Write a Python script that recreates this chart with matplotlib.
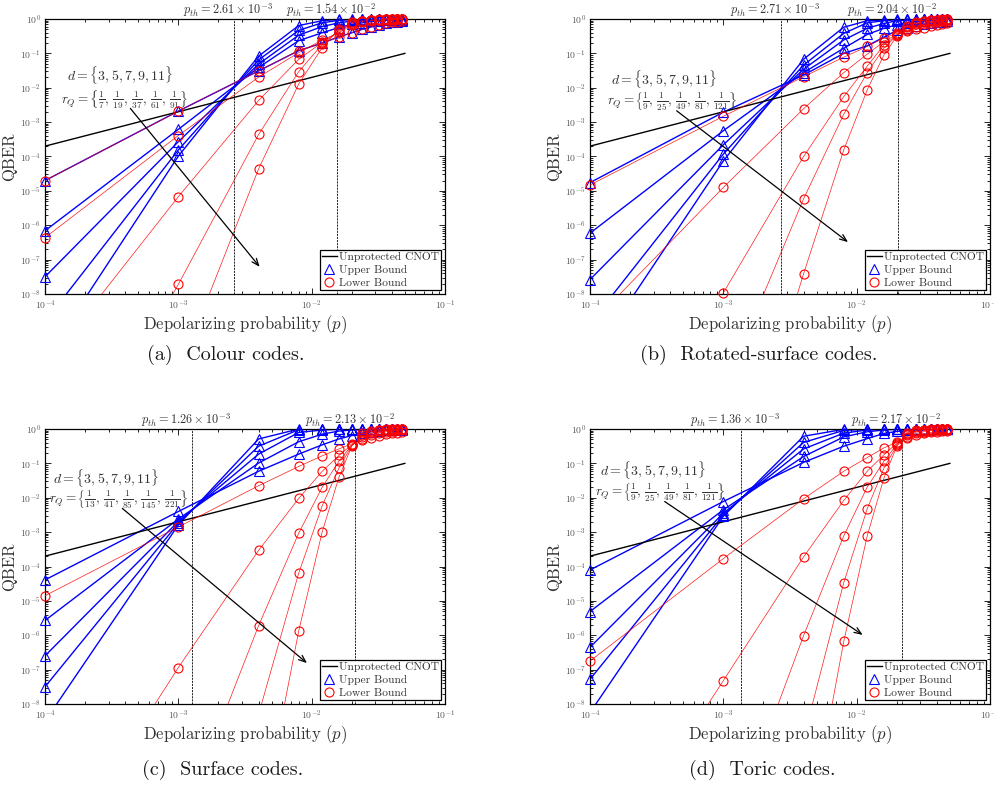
import numpy as np
import matplotlib
matplotlib.use("Agg")
import matplotlib.pyplot as plt
import matplotlib.transforms as mtransforms
from matplotlib.lines import Line2D
from matplotlib.ticker import LogLocator, NullFormatter

plt.rcParams.update({
    "font.family": "serif",
    "font.serif": ["cmr10", "DejaVu Serif"],
    "mathtext.fontset": "cm",
    "axes.formatter.use_mathtext": True,
    "axes.unicode_minus": False,
})

# Depolarizing probabilities at which the bounds were evaluated
p_grid = [1e-4, 1e-3, 4e-3, 8e-3, 1.2e-2, 1.6e-2, 2.0e-2, 2.4e-2,
          2.8e-2, 3.2e-2, 3.6e-2, 4.0e-2, 4.4e-2, 4.8e-2]
distances = [3, 5, 7, 9, 11]

# Unprotected CNOT
p_unprot = [1e-4, 5e-2]
q_unprot = [2e-4, 1e-1]

# log10(QBER), one row per distance d = 3, 5, 7, 9, 11
colour_upper = [
    [-4.70, -2.68, -1.51, -0.92, -0.70, -0.52, -0.40, -0.30, -0.23, -0.17, -0.13, -0.10, -0.08, -0.06],
    [-6.16, -3.21, -1.41, -0.63, -0.40, -0.25, -0.16, -0.11, -0.07, -0.05, -0.04, -0.03, -0.02, -0.02],
    [-7.50, -3.57, -1.31, -0.47, -0.22, -0.11, -0.06, -0.03, -0.02, -0.01, -0.01, 0.00, 0.00, 0.00],
    [-8.80, -3.81, -1.19, -0.33, -0.11, -0.04, -0.02, -0.01, 0.00, 0.00, 0.00, 0.00, 0.00, 0.00],
    [-9.90, -3.99, -1.08, -0.19, -0.05, -0.01, 0.00, 0.00, 0.00, 0.00, 0.00, 0.00, 0.00, 0.00],
]
colour_lower = [
    [-4.70, -2.68, -1.51, -0.92, -0.70, -0.52, -0.40, -0.30, -0.23, -0.17, -0.13, -0.10, -0.08, -0.06],
    [-6.36, -3.39, -1.69, -0.98, -0.61, -0.40, -0.17, -0.09, -0.05, -0.03, -0.02, -0.02, -0.01, -0.01],
    [-10.1, -5.17, -2.37, -1.17, -0.68, -0.36, -0.14, -0.07, -0.04, -0.02, -0.01, -0.01, 0.00, 0.00],
    [-14.5, -7.72, -3.36, -1.53, -0.74, -0.33, -0.12, -0.06, -0.03, -0.02, -0.01, 0.00, 0.00, 0.00],
    [-17.0, -10.3, -4.36, -1.89, -0.83, -0.30, -0.10, -0.05, -0.03, -0.01, 0.00, 0.00, 0.00, 0.00],
]

rotated_upper = [
    [-4.76, -2.71, -1.63, -1.00, -0.78, -0.53, -0.33, -0.25, -0.19, -0.15, -0.12, -0.10, -0.08, -0.07],
    [-6.23, -3.25, -1.56, -0.85, -0.45, -0.27, -0.17, -0.11, -0.07, -0.05, -0.03, -0.02, -0.02, -0.01],
    [-7.58, -3.66, -1.46, -0.61, -0.27, -0.13, -0.05, -0.03, -0.02, -0.01, -0.01, 0.00, 0.00, 0.00],
    [-8.86, -3.93, -1.34, -0.42, -0.11, -0.05, -0.02, -0.01, 0.00, 0.00, 0.00, 0.00, 0.00, 0.00],
    [-9.93, -4.13, -1.17, -0.24, -0.05, -0.03, -0.01, 0.00, 0.00, 0.00, 0.00, 0.00, 0.00, 0.00],
]
rotated_lower = [
    [-4.83, -2.83, -1.68, -1.11, -0.80, -0.55, -0.42, -0.36, -0.30, -0.25, -0.21, -0.18, -0.15, -0.13],
    [-8.90, -4.90, -2.61, -1.56, -1.02, -0.66, -0.45, -0.33, -0.22, -0.15, -0.11, -0.08, -0.06, -0.05],
    [-14.6, -7.97, -4.00, -2.26, -1.37, -0.76, -0.47, -0.28, -0.16, -0.10, -0.06, -0.04, -0.03, -0.02],
    [-19.0, -10.8, -5.23, -2.77, -1.56, -0.85, -0.48, -0.24, -0.12, -0.07, -0.04, -0.03, -0.02, -0.01],
    [-25.0, -15.0, -7.41, -3.81, -2.06, -1.05, -0.50, -0.20, -0.09, -0.05, -0.03, -0.02, -0.01, -0.01],
]

surface_upper = [
    [-4.39, -2.40, -1.23, -0.73, -0.46, -0.29, -0.19, -0.12, -0.08, -0.06, -0.04, -0.03, -0.02, -0.02],
    [-5.57, -2.62, -0.99, -0.37, -0.15, -0.06, -0.03, -0.02, -0.01, 0.00, 0.00, 0.00, 0.00, 0.00],
    [-6.60, -2.69, -0.73, -0.10, -0.03, -0.01, 0.00, 0.00, 0.00, 0.00, 0.00, 0.00, 0.00, 0.00],
    [-7.50, -2.74, -0.50, -0.02, 0.00, 0.00, 0.00, 0.00, 0.00, 0.00, 0.00, 0.00, 0.00, 0.00],
    [-8.50, -2.79, -0.29, 0.00, 0.00, 0.00, 0.00, 0.00, 0.00, 0.00, 0.00, 0.00, 0.00, 0.00],
]
surface_lower = [
    [-4.85, -2.85, -1.65, -1.09, -0.78, -0.58, -0.43, -0.33, -0.25, -0.20, -0.16, -0.13, -0.11, -0.09],
    [-13.0, -6.94, -3.53, -2.02, -1.23, -0.77, -0.46, -0.28, -0.18, -0.12, -0.08, -0.06, -0.04, -0.03],
    [-20.0, -11.7, -5.72, -3.03, -1.69, -0.94, -0.47, -0.22, -0.12, -0.07, -0.04, -0.03, -0.02, -0.01],
    [-28.0, -16.5, -8.30, -4.19, -2.23, -1.14, -0.48, -0.17, -0.08, -0.04, -0.02, -0.01, -0.01, 0.00],
    [-36.0, -24.0, -11.9, -5.87, -2.99, -1.41, -0.50, -0.12, -0.05, -0.03, -0.01, -0.01, 0.00, 0.00],
]

toric_upper = [
    [-4.10, -2.11, -0.97, -0.50, -0.28, -0.13, -0.07, -0.04, -0.03, -0.02, -0.01, -0.01, 0.00, 0.00],
    [-5.31, -2.35, -0.80, -0.23, -0.08, -0.03, -0.01, 0.00, 0.00, 0.00, 0.00, 0.00, 0.00, 0.00],
    [-6.35, -2.45, -0.58, -0.12, -0.03, -0.01, 0.00, 0.00, 0.00, 0.00, 0.00, 0.00, 0.00, 0.00],
    [-7.28, -2.50, -0.39, -0.04, -0.01, 0.00, 0.00, 0.00, 0.00, 0.00, 0.00, 0.00, 0.00, 0.00],
    [-8.25, -2.54, -0.21, -0.01, 0.00, 0.00, 0.00, 0.00, 0.00, 0.00, 0.00, 0.00, 0.00, 0.00],
]
toric_lower = [
    [-6.75, -3.77, -2.03, -1.23, -0.83, -0.55, -0.38, -0.26, -0.18, -0.13, -0.10, -0.08, -0.06, -0.05],
    [-13.3, -7.32, -3.72, -2.08, -1.23, -0.75, -0.42, -0.22, -0.13, -0.08, -0.05, -0.04, -0.03, -0.02],
    [-20.0, -12.3, -6.01, -3.11, -1.69, -0.94, -0.45, -0.18, -0.09, -0.05, -0.03, -0.02, -0.01, -0.01],
    [-28.0, -16.5, -9.00, -4.47, -2.32, -1.14, -0.48, -0.15, -0.06, -0.03, -0.02, -0.01, 0.00, 0.00],
    [-36.0, -25.0, -12.5, -6.18, -3.11, -1.43, -0.50, -0.12, -0.04, -0.02, -0.01, 0.00, 0.00, 0.00],
]

# Threshold estimates shown above each panel
colour_pth = [2.61e-3, 1.54e-2]
rotated_pth = [2.71e-3, 2.04e-2]
surface_pth = [1.26e-3, 2.13e-2]
toric_pth = [1.36e-3, 2.17e-2]

colour_rq = r"$r_Q = \left\{\frac{1}{7},\,\frac{1}{19},\,\frac{1}{37},\,\frac{1}{61},\,\frac{1}{91}\right\}$"
rotated_rq = r"$r_Q = \left\{\frac{1}{9},\,\frac{1}{25},\,\frac{1}{49},\,\frac{1}{81},\,\frac{1}{121}\right\}$"
surface_rq = r"$r_Q = \left\{\frac{1}{13},\,\frac{1}{41},\,\frac{1}{85},\,\frac{1}{145},\,\frac{1}{221}\right\}$"
toric_rq = rotated_rq
d_text = r"$d = \{3,5,7,9,11\}$"

W, H = 994, 790
fig = plt.figure(figsize=(W / 100, H / 100), dpi=100)


def px_axes(left, top, right, bottom):
    return fig.add_axes([left / W, 1 - bottom / H, (right - left) / W, (bottom - top) / H])


def fmt_pth(v):
    m, e = f"{v:.2e}".split("e")
    return rf"$p_{{th}} = {m} \times 10^{{{int(e)}}}$"


def draw_panel(ax, upper, lower, pth, rq, d_pos, rq_pos, arr_from, arr_to):
    ax.set_xscale("log")
    ax.set_yscale("log")
    p = np.array(p_grid)
    ax.plot(p_unprot, q_unprot, color="k", lw=1.0, zorder=3)
    for row in upper:
        ax.plot(p, 10.0 ** np.array(row), color=(0, 0, 1), lw=1.0, zorder=2)
    for row in lower:
        ax.plot(p, 10.0 ** np.array(row), color=(1, 0, 0), lw=0.5, alpha=0.9, zorder=4)
    for row in upper:
        q = 10.0 ** np.array(row)
        m = q >= 1e-8
        ax.plot(p[m], q[m], ls="none", marker="^", ms=6.5, mfc="none",
                mec=(0, 0, 1), mew=0.8, clip_on=False, zorder=5)
    for row in lower:
        q = 10.0 ** np.array(row)
        m = q >= 1e-8
        ax.plot(p[m], q[m], ls="none", marker="o", ms=6.5, mfc="none",
                mec=(1, 0, 0), mew=0.8, clip_on=False, zorder=6)

    label_tr = mtransforms.offset_copy(ax.get_xaxis_transform(), fig=fig, x=-6, y=5, units="dots")
    for v in pth:
        ax.axvline(v, color="k", lw=0.6, ls=(0, (2.5, 1.2)), zorder=1)
        ax.text(v, 1.0, fmt_pth(v), transform=label_tr,
                ha="center", va="baseline", fontsize=8.8, color="0.2")

    ax.text(*d_pos, d_text, ha="center", va="center", fontsize=10, color="0.2")
    ax.text(*rq_pos, rq, ha="center", va="center", fontsize=9.5, color="0.2")
    ax.annotate("", xy=arr_to, xytext=arr_from,
                arrowprops=dict(arrowstyle="->,head_length=0.5,head_width=0.2",
                                color="k", lw=0.9, shrinkA=0, shrinkB=0), zorder=7)

    ax.set_xlim(1e-4, 1e-1)
    ax.set_ylim(1e-8, 1)
    ax.xaxis.set_major_locator(LogLocator(base=10, numticks=10))
    ax.yaxis.set_major_locator(LogLocator(base=10, numticks=12))
    ax.xaxis.set_minor_locator(LogLocator(base=10, subs=np.arange(2, 10), numticks=20))
    ax.yaxis.set_minor_locator(LogLocator(base=10, subs=np.arange(2, 10), numticks=20))
    ax.xaxis.set_minor_formatter(NullFormatter())
    ax.yaxis.set_minor_formatter(NullFormatter())
    ax.tick_params(which="both", direction="in", top=True, right=True,
                   labelsize=7, labelcolor="0.35", width=0.6)
    ax.tick_params(which="major", length=4, pad=3)
    ax.tick_params(which="minor", length=2)
    for s in ax.spines.values():
        s.set_linewidth(0.9)
    ax.set_xlabel(r"Depolarizing probability ($p$)", fontsize=12, color="0.2", labelpad=1)
    ax.set_ylabel("QBER", fontsize=12, color="0.2", labelpad=2)

    handles = [
        Line2D([], [], color="k", lw=1.0),
        Line2D([], [], ls="none", marker="^", ms=6.5, mfc="none", mec=(0, 0, 1), mew=0.8),
        Line2D([], [], ls="none", marker="o", ms=6.5, mfc="none", mec=(1, 0, 0), mew=0.8),
    ]
    leg = ax.legend(handles, ["Unprotected CNOT", "Upper Bound", "Lower Bound"],
                    loc="lower right", fontsize=8.3, frameon=True, fancybox=False,
                    edgecolor="k", framealpha=1, borderaxespad=0.35, borderpad=0.2,
                    handlelength=1.3, handletextpad=0.15, labelspacing=0.22)
    leg.get_frame().set_linewidth(0.9)
    for t in leg.get_texts():
        t.set_color("0.2")


ax_a = px_axes(45, 19, 445, 294)
ax_b = px_axes(590, 19, 990, 294)
ax_c = px_axes(45, 429, 445, 704)
ax_d = px_axes(590, 429, 990, 704)

draw_panel(ax_a, colour_upper, colour_lower, colour_pth, colour_rq,
           (10 ** -3.44, 10 ** -1.64), (10 ** -3.40, 10 ** -2.33),
           (10 ** -3.36, 10 ** -2.60), (10 ** -2.39, 10 ** -7.21))
draw_panel(ax_b, rotated_upper, rotated_lower, rotated_pth, rotated_rq,
           (10 ** -3.445, 10 ** -1.76), (10 ** -3.385, 10 ** -2.39),
           (10 ** -3.35, 10 ** -2.67), (10 ** -2.065, 10 ** -6.49))
draw_panel(ax_c, surface_upper, surface_lower, surface_pth, surface_rq,
           (10 ** -3.54, 10 ** -1.42), (10 ** -3.45, 10 ** -2.05),
           (10 ** -3.42, 10 ** -2.31), (10 ** -2.035, 10 ** -6.81))
draw_panel(ax_d, toric_upper, toric_lower, toric_pth, toric_rq,
           (10 ** -3.53, 10 ** -1.20), (10 ** -3.475, 10 ** -1.83),
           (10 ** -3.44, 10 ** -2.11), (10 ** -1.955, 10 ** -5.99))

captions = [("(a)  Colour codes.", 226, 355), ("(b)  Rotated-surface codes.", 759, 355),
            ("(c)  Surface codes.", 223, 770), ("(d)  Toric codes.", 762, 770)]
for txt, x, y in captions:
    fig.text(x / W, 1 - y / H, txt, ha="center", va="center", fontsize=14.5, color="0.1")

fig.savefig("out.png", dpi=100)
